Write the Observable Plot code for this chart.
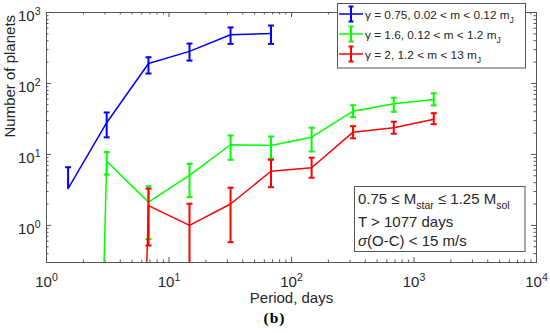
<!DOCTYPE html>
<html>
<head>
<meta charset="utf-8">
<script src="https://cdn.jsdelivr.net/npm/d3@7"></script>
<script src="https://cdn.jsdelivr.net/npm/@observablehq/plot@0.6"></script>
<style>
  html, body { margin: 0; padding: 0; background: #fff; }
  #chart svg { display: block; }
</style>
</head>
<body>
<div id="chart"></div>
<script>
// ---- data ----
const periods = [1.5, 3.1, 6.8, 14.7, 31.8, 68, 146, 318, 684, 1450];

const blueN  = [3.3, 28, 191, 283, 485, 505];
const blueLo = [null, 17.4, 138, 210, 361, 361];
const blueHi = [6.6, 39, 234, 365, 616, 655];

const greenN  = [1e-20, 8.0, 2.13, 5.06, 13.7, 13.4, 17.5, 40.7, 51.6, 59.5];
const greenLo = [null, 5.2, 0.64, 2.5, 8.4, 8.7, 11.0, 33.5, 39.9, 49];
const greenHi = [null, 10.8, 3.55, 7.4, 18.5, 17.9, 23.8, 49.3, 62.9, 72.7];

const redN  = [null, 1e-20, 1.9, 1.0, 2.0, 5.8, 6.5, 20.6, 23.8, 31.4];
const redLo = [null, null, 0.52, 0.01, 0.58, 3.46, 4.7, 16.9, 19.6, 26.7];
const redHi = [null, null, 3.3, 2.02, 3.4, 8.4, 9.0, 25, 28.9, 38.1];

const seriesNames = [
  "γ = 0.75, 0.02 < m < 0.12 m",
  "γ = 1.6, 0.12 < m < 1.2 m",
  "γ = 2, 1.2 < m < 13 m"
];
const seriesColors = ["#0000ff", "#00ff00", "#ff0000"];

const xMajor = [1, 10, 100, 1000, 10000];
const xMinor = [2,3,4,5,6,7,8,9,20,30,40,50,60,70,80,90,200,300,400,500,600,700,800,900,2000,3000,4000,5000,6000,7000,8000,9000];
const yMajor = [1, 10, 100, 1000];
const yMinor = [0.3,0.4,0.5,0.6,0.7,0.8,0.9,2,3,4,5,6,7,8,9,20,30,40,50,60,70,80,90,200,300,400,500,600,700,800,900];

// ---- build tables ----
function rows(n, lo, hi) {
  return periods.map((p, i) => ({p, n: n[i], lo: lo[i], hi: hi[i]}))
    .filter(d => d.n != null);
}
const series = [
  {rows: rows(blueN, blueLo, blueHi), color: seriesColors[0]},
  {rows: rows(greenN, greenLo, greenHi), color: seriesColors[1]},
  {rows: rows(redN, redLo, redHi), color: seriesColors[2]}
];

const capSymbol = {
  draw(ctx, size) {
    const w = Math.sqrt(size / Math.PI);
    ctx.moveTo(-w, 0);
    ctx.lineTo(w, 0);
  }
};

const W = 550, H = 333;
const mL = 46, mR = 14, mT = 12, mB = 71;
const fw = W - mL - mR, fh = H - mT - mB;
const textColor = "#262626";
const axisColor = "#555";
const font = "'Liberation Sans', Arial, Helvetica, sans-serif";

const marks = [];
// ticks inside on all four sides
const majLen = 5, minLen = 2.5;
marks.push(Plot.ruleX(xMajor, {x: d => d, insetTop: fh - majLen, stroke: axisColor}));
marks.push(Plot.ruleX(xMajor, {x: d => d, insetBottom: fh - majLen, stroke: axisColor}));
marks.push(Plot.ruleX(xMinor, {x: d => d, insetTop: fh - minLen, stroke: axisColor}));
marks.push(Plot.ruleX(xMinor, {x: d => d, insetBottom: fh - minLen, stroke: axisColor}));
marks.push(Plot.ruleY(yMajor, {y: d => d, insetRight: fw - majLen, stroke: axisColor}));
marks.push(Plot.ruleY(yMajor, {y: d => d, insetLeft: fw - majLen, stroke: axisColor}));
marks.push(Plot.ruleY(yMinor, {y: d => d, insetRight: fw - minLen, stroke: axisColor}));
marks.push(Plot.ruleY(yMinor, {y: d => d, insetLeft: fw - minLen, stroke: axisColor}));

for (const s of series) {
  const err = s.rows.filter(d => d.hi != null);
  marks.push(Plot.line(s.rows, {x: "p", y: "n", stroke: s.color, strokeWidth: 1.5, clip: true}));
  marks.push(Plot.ruleX(err, {x: "p", y1: d => d.lo ?? d.n, y2: "hi", stroke: s.color, strokeWidth: 2, clip: true}));
  marks.push(Plot.dot(err, {x: "p", y: "hi", symbol: capSymbol, r: 3, stroke: s.color, strokeWidth: 2, fill: "none", clip: true}));
  marks.push(Plot.dot(err.filter(d => d.lo != null), {x: "p", y: "lo", symbol: capSymbol, r: 3, stroke: s.color, strokeWidth: 2, fill: "none", clip: true}));
}

marks.push(Plot.frame({stroke: axisColor, strokeWidth: 1}));

marks.push(Plot.axisX({ticks: xMajor, tickSize: 0, tickPadding: 14, fontSize: 15, fill: textColor,
  tickFormat: d => `10^${Math.round(Math.log10(d))}`, label: null}));
marks.push(Plot.axisY({ticks: yMajor, tickSize: 0, tickPadding: 6, fontSize: 15, fill: textColor, dy: 4,
  tickFormat: d => `10^${Math.round(Math.log10(d))}`, label: null}));

marks.push(Plot.text(["Period, days"], {text: d => d, frameAnchor: "bottom", dy: 40, fontSize: 15, fill: textColor}));
marks.push(Plot.text(["Number of planets"], {text: d => d, frameAnchor: "left", dx: -36.5, rotate: -90, fontSize: 15, fill: textColor}));
marks.push(Plot.text(["(b)"], {text: d => d, frameAnchor: "bottom", dx: -17, dy: 60, fontSize: 15.5, fontWeight: "bold",
  fontFamily: "'Liberation Serif', 'Times New Roman', serif", fill: "#000"}));

const plot = Plot.plot({
  width: W, height: H,
  marginLeft: mL, marginRight: mR, marginTop: mT, marginBottom: mB,
  style: {fontFamily: font, fontSize: "15px", color: textColor, background: "#fff", overflow: "visible"},
  x: {type: "log", domain: [1, 10000], label: null},
  y: {type: "log", domain: [0.3, 1000], label: null},
  marks
});
document.getElementById("chart").appendChild(plot);

const svg = d3.select(plot.tagName.toLowerCase() === "svg" ? plot : plot.querySelector("svg"));

// letter spacing for (b)
svg.selectAll("text").filter(function() { return this.textContent === "(b)"; }).attr("letter-spacing", 1);

// superscript tick labels
svg.selectAll('g[aria-label="x-axis tick label"] text, g[aria-label="y-axis tick label"] text').each(function() {
  const t = d3.select(this);
  const s = this.textContent;
  if (!s.includes("^")) return;
  const [b, e] = s.split("^");
  t.text(null);
  t.append("tspan").text(b);
  t.append("tspan").attr("dy", -6).attr("font-size", 10.5).text(e);
});

// legend
const lg = svg.append("g").attr("font-family", font).attr("fill", textColor).attr("text-anchor", "start");
lg.append("rect").attr("x", 337.5).attr("y", 3.5).attr("width", 188).attr("height", 64.5)
  .attr("fill", "#fff").attr("stroke", axisColor).attr("stroke-width", 1);
seriesNames.forEach((name, i) => {
  const cy = 14 + i * 20;
  const c = seriesColors[i];
  const g = lg.append("g").attr("stroke", c).attr("fill", "none");
  g.append("line").attr("x1", 339).attr("x2", 363).attr("y1", cy).attr("y2", cy).attr("stroke-width", 1.5);
  g.append("line").attr("x1", 351).attr("x2", 351).attr("y1", cy - 7.5).attr("y2", cy + 7.5).attr("stroke-width", 2);
  g.append("line").attr("x1", 348.5).attr("x2", 353.5).attr("y1", cy - 7.5).attr("y2", cy - 7.5).attr("stroke-width", 2);
  g.append("line").attr("x1", 348.5).attr("x2", 353.5).attr("y1", cy + 7.5).attr("y2", cy + 7.5).attr("stroke-width", 2);
  const tx = lg.append("text").attr("x", 365).attr("y", cy + 4.5).attr("font-size", 11.8);
  tx.append("tspan").text(name);
  tx.append("tspan").attr("dy", 4.5).attr("font-size", 8.5).text("J");
});

// annotation box
const ab = svg.append("g").attr("font-family", font).attr("fill", textColor).attr("font-size", 15).attr("text-anchor", "start");
ab.append("rect").attr("x", 354.5).attr("y", 186.5).attr("width", 170.5).attr("height", 65)
  .attr("fill", "#fff").attr("stroke", axisColor).attr("stroke-width", 1);
const l1 = ab.append("text").attr("x", 358).attr("y", 204);
l1.append("tspan").text("0.75 ≤ M");
l1.append("tspan").attr("dy", 5).attr("font-size", 10.5).text("star");
l1.append("tspan").attr("dy", -5).text(" ≤ 1.25 M");
l1.append("tspan").attr("dy", 5).attr("font-size", 10.5).text("sol");
ab.append("text").attr("x", 358).attr("y", 227).text("T > 1077 days");
const l3 = ab.append("text").attr("x", 358).attr("y", 246);
l3.append("tspan").attr("font-style", "italic").text("σ");
l3.append("tspan").text("(O-C) < 15 m/s");
</script>
</body>
</html>
